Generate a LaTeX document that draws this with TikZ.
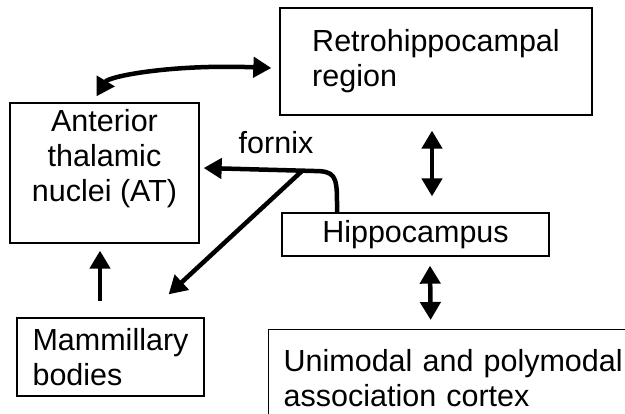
\documentclass[tikz,border=0pt]{standalone}
\usepackage{fontspec}
\setmainfont{Liberation Sans}
\usetikzlibrary{arrows.meta}

\begin{document}
\begin{tikzpicture}[x=1pt, y=-1pt,
  font=\fontsize{30.5}{35}\selectfont,
  >={Triangle[length=18pt,width=20pt]},
  struct/.style={draw, line width=1.3pt, inner sep=0pt},
  tract/.style={line width=4.5pt}]
%%% memory circuit %%%
\useasboundingbox (0,0) rectangle (625,414);
\clip (0,0) rectangle (625,414);

      %% structures
      \node[struct, minimum width=312, minimum height=107, align=left] (retro) at (436,61.5) {Retrohippocampal\\region};
      \node[struct, minimum width=189, minimum height=140, align=center] (at) at (104.5,173) {Anterior\\thalamic\\nuclei (AT)\\\mbox{}};
      \node[struct, minimum width=267, minimum height=43] (hip) at (415.5,234.5) {Hippocampus};
      \node[struct, minimum width=187, minimum height=78, align=left] (mam) at (110.5,357) {Mammillary\\bodies};
      \node[struct, anchor=north west, minimum width=372, minimum height=96, text width=342, inner xsep=15pt, align=left] (uni) at (268,329) {Unimodal and polymodal\\association cortex};

      %% fornix
      \coordinate (fx) at (302,171);
      \node (fornix) at ([shift={(-26,-28)}]fx) {fornix};
      \draw[tract,->] ([shift={(-78.5,1)}]hip.north) -- ++(0,-12) .. controls +(0,-26) and +(20,0) .. ([shift={(12,0)}]fx) -- ([shift={(4,-5)}]at.east);
      \draw[tract,->] (fx) -- ([shift={(-36,-23)}]mam.north east);

      %% other connections
      \draw[tract,<->] ([shift={(-8,-6)}]at.north) .. controls +(12,-20) and +(-100,-4) .. ([shift={(-8,6.5)}]retro.west);
      \draw[tract,<->] ([shift={(-4,15)}]retro.south) -- ([shift={(16.5,-16)}]hip.north);
      \draw[tract,<->] ([shift={(14.5,9)}]hip.south) -- ([shift={(-24,-9)}]uni.north);
      \draw[tract,->] ([shift={(-10.5,-16)}]mam.north) -- ([shift={(-4.5,7)}]at.south);

\end{tikzpicture}
\end{document}
